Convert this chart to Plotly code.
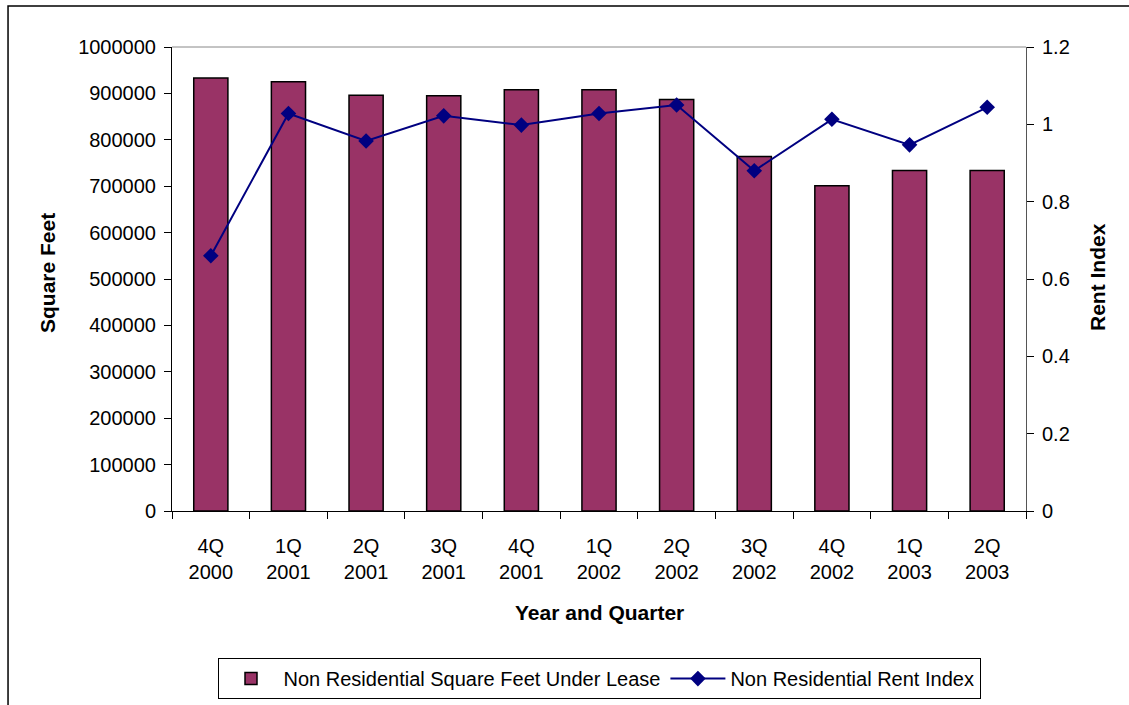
import plotly.graph_objects as go

categories = ["4Q<br>2000", "1Q<br>2001", "2Q<br>2001", "3Q<br>2001", "4Q<br>2001",
              "1Q<br>2002", "2Q<br>2002", "3Q<br>2002", "4Q<br>2002", "1Q<br>2003", "2Q<br>2003"]
square_feet = [933000, 925000, 896000, 895000, 908000, 908000, 887000, 764000, 701000, 734000, 734000]
rent_index = [0.66, 1.028, 0.957, 1.022, 0.998, 1.028, 1.05, 0.880, 1.013, 0.947, 1.044]
left_ticks = [0, 100000, 200000, 300000, 400000, 500000, 600000, 700000, 800000, 900000, 1000000]
right_ticks = [0, 0.2, 0.4, 0.6, 0.8, 1, 1.2]

FONT = "Liberation Sans, Arial, sans-serif"

fig = go.Figure()
fig.add_trace(go.Bar(
    x=categories, y=square_feet, name="Non Residential Square Feet Under Lease",
    marker=dict(color="#993366", line=dict(color="black", width=1.5)),
    yaxis="y",
))
fig.add_trace(go.Scatter(
    x=categories, y=rent_index, name="Non Residential Rent Index",
    mode="lines+markers",
    line=dict(color="#000080", width=2),
    marker=dict(symbol="diamond", size=12, color="#000080"),
    yaxis="y2",
))

fig.update_layout(
    width=1129, height=705,
    margin=dict(l=172, r=103, t=47, b=194, autoexpand=False),
    paper_bgcolor="white", plot_bgcolor="white",
    font=dict(family=FONT, size=20, color="black"),
    bargap=0.56,
    showlegend=True,
    legend=dict(orientation="h", x=0.5, xanchor="center", y=-0.317, yanchor="top",
                bordercolor="black", borderwidth=1, font=dict(size=20),
                itemwidth=55, tracegroupgap=0),
    xaxis=dict(
        type="category", range=[-0.5, 10.5], showgrid=False, showline=True,
        linecolor="black", linewidth=1, automargin=False,
        ticks="outside", tickson="boundaries", ticklen=7, tickcolor="black",
        tickfont=dict(size=20), zeroline=False, ticklabelstandoff=17,
    ),
    yaxis=dict(
        range=[0, 1000000], tickvals=left_ticks, tickformat="d", automargin=False,
        showgrid=False, showline=True, linecolor="black", linewidth=1,
        ticks="outside", ticklen=7, tickcolor="black", zeroline=False,
        tickfont=dict(size=20), ticklabelstandoff=4,
    ),
    yaxis2=dict(
        range=[0, 1.2], tickvals=right_ticks, overlaying="y", side="right", automargin=False,
        showgrid=False, showline=True, linecolor="#555555", linewidth=1,
        ticks="outside", ticklen=7, tickcolor="black", zeroline=False,
        tickfont=dict(size=20), ticklabelstandoff=4,
    ),
    shapes=[
        dict(type="line", xref="paper", yref="paper", x0=0, x1=1, y0=1, y1=1,
             line=dict(color="#888888", width=1)),
        dict(type="rect", xref="paper", yref="paper", x0=-0.192, x1=1.2, y0=-0.5, y1=1.0884,
             line=dict(color="black", width=1.5), layer="below"),
    ],
    annotations=[
        dict(text="<b>Year and Quarter</b>", xref="paper", yref="paper", x=0.5, y=(511 - 612) / 464,
             showarrow=False, font=dict(size=21), xanchor="center", yanchor="middle"),
        dict(text="<b>Square Feet</b>", xref="paper", yref="paper", x=(47 - 172) / 854, y=(511 - 273) / 464,
             showarrow=False, font=dict(size=21), textangle=-90, xanchor="center", yanchor="middle"),
        dict(text="<b>Rent Index</b>", xref="paper", yref="paper", x=(1097 - 172) / 854, y=(511 - 277) / 464,
             showarrow=False, font=dict(size=21), textangle=-90, xanchor="center", yanchor="middle"),
    ],
)

fig.write_html("out.html")
